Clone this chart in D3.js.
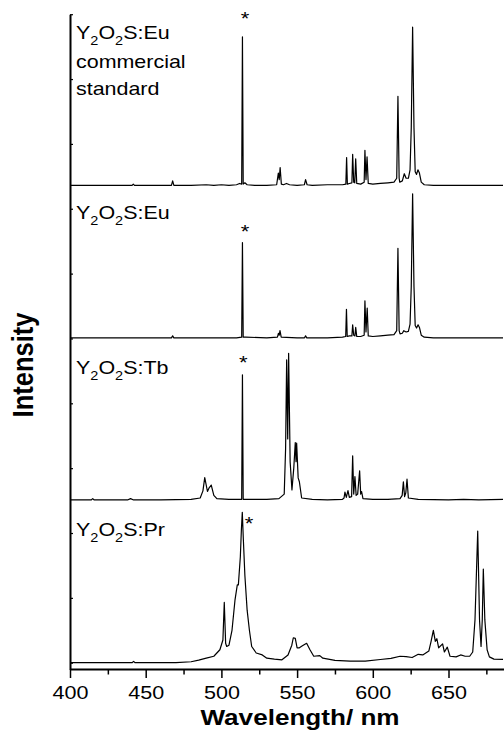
<!DOCTYPE html>
<html>
<head>
<meta charset="utf-8">
<script src="https://cdn.jsdelivr.net/npm/d3@7"></script>
<style>
  body { margin: 0; background: #fff; }
  svg { display: block; font-family: "Liberation Sans", Arial, sans-serif; }
</style>
</head>
<body>
<svg id="chart" width="504" height="733" viewBox="0 0 504 733"></svg>
<script>
// Spectra: [wavelength nm, intensity above own baseline]
const euStandard = [
  [400,0.01],[420,0.01],[441,0.01],[441.8,0.03],[442.6,0.01],[460,0.01],[467,0.01],[467.8,0.08],[468.6,0.01],
  [480,0.01],[490,0.02],[495,0.01],[500,0.02],[505,0.01],[510,0.02],[512,0.04],[513.4,0.03],[513.9,2.30],
  [514.4,0.03],[515.5,0.05],[517,0.02],[522,0.01],[530,0.01],[536.5,0.02],[537.6,0.2],[538.2,0.1],[538.8,0.285],
  [539.6,0.03],[541,0.02],[543,0.04],[545,0.02],[550,0.01],[554.8,0.02],[555.6,0.1],[556.6,0.02],[560,0.01],
  [570,0.02],[580,0.02],[582.2,0.03],[582.7,0.44],[583.2,0.03],[584.5,0.04],[586.2,0.05],[586.7,0.49],
  [587.4,0.06],[588.1,0.05],[588.7,0.42],[589.4,0.04],[592,0.03],[594.3,0.06],[594.8,0.55],[595.5,0.1],
  [596.2,0.45],[597,0.04],[600,0.03],[605,0.04],[610,0.05],[614,0.06],[615.8,0.12],[616.6,1.385],[617.4,0.12],
  [617.8,0.06],[619.5,0.08],[620.8,0.19],[622,0.12],[623.5,0.12],[624.6,0.25],[625.4,0.9],[626.3,2.45],
  [627.2,0.9],[628,0.22],[628.9,0.18],[629.8,0.25],[630.8,0.2],[632,0.06],[634,0.02],[640,0.01],[660,0.01],[686,0.01]
];
const euSample = [
  [400,0.01],[430,0.01],[467,0.01],[467.8,0.04],[468.6,0.01],[490,0.01],[500,0.01],[510,0.01],[513.4,0.02],
  [513.9,1.48],[514.4,0.02],[516,0.02],[530,0.01],[537,0.02],[537.7,0.08],[538.2,0.05],[538.7,0.12],[539.5,0.02],
  [550,0.01],[554.9,0.01],[555.6,0.04],[556.4,0.01],[570,0.01],[580,0.02],[582.1,0.03],[582.6,0.45],[583.1,0.03],
  [584.5,0.04],[586.2,0.04],[586.7,0.21],[587.4,0.05],[588.2,0.04],[588.7,0.17],[589.4,0.03],[592,0.03],
  [594.3,0.05],[594.8,0.58],[595.5,0.1],[596.3,0.47],[597,0.04],[600,0.03],[605,0.04],[610,0.05],[614,0.06],
  [615.8,0.12],[616.6,1.39],[617.4,0.12],[618,0.07],[619.5,0.08],[620.5,0.12],[622,0.1],[623.5,0.11],
  [624.6,0.22],[625.4,0.8],[626.3,2.23],[627.2,0.8],[628,0.2],[628.9,0.16],[629.9,0.21],[630.8,0.17],
  [632,0.05],[634,0.02],[640,0.01],[660,0.01],[686,0.01]
];
const tbSample = [
  [400,0.01],[414,0.01],[415,0.03],[416,0.01],[438,0.01],[440,0.03],[442,0.01],[460,0.01],[480,0.02],
  [486,0.04],[487.8,0.15],[489,0.355],[490.8,0.14],[492,0.2],[493.3,0.24],[495,0.08],[497,0.03],[505,0.02],
  [513.4,0.02],[513.9,1.94],[514.4,0.02],[520,0.02],[530,0.02],[538,0.03],[541.5,0.1],[542.4,0.8],[543.1,2.17],
  [543.8,0.95],[544.4,2.27],[545.4,0.6],[546.6,0.165],[547.8,0.5],[548.8,0.894],[549.3,0.6],[549.7,0.885],
  [550.7,0.35],[551.5,0.29],[553,0.04],[560,0.02],[570,0.01],[580,0.02],[581,0.04],[581.6,0.13],[582.5,0.05],
  [583.6,0.155],[584.5,0.05],[586,0.06],[586.7,0.69],[587.4,0.1],[588.2,0.37],[589,0.08],[590,0.1],[591.3,0.46],
  [592,0.1],[592.6,0.14],[593.5,0.03],[600,0.02],[610,0.02],[618,0.03],[619.4,0.08],[620.2,0.29],[621,0.06],
  [621.8,0.12],[622.6,0.33],[623.5,0.04],[630,0.02],[650,0.01],[660,0.02],[670,0.01],[686,0.02]
];
const prSample = [
  [400,0.0],[430,0.0],[441,0.0],[442,0.02],[443,0.0],[460,0.0],[470,0.0],[480,0.015],[485,0.04],[490,0.07],
  [495,0.1],[497,0.15],[499,0.2],[501,0.35],[501.9,0.93],[502.8,0.3],[503.5,0.25],[505,0.27],[507,0.5],
  [509,0.97],[510.5,1.2],[511.2,1.2],[512.5,1.63],[513.2,2.05],[513.8,2.32],[514.5,1.9],[515.5,1.35],[517,0.81],
  [518.5,0.5],[520,0.25],[523,0.15],[527,0.12],[530,0.07],[535,0.055],[540,0.045],[544,0.12],[546.5,0.27],
  [547.5,0.385],[548.8,0.375],[550,0.23],[551.5,0.23],[553.5,0.26],[556.3,0.3],[558.5,0.2],[561,0.1],[565,0.11],
  [567,0.07],[575,0.035],[585,0.025],[595,0.025],[605,0.05],[612,0.068],[618,0.1],[622,0.095],[626,0.08],
  [630,0.13],[633,0.12],[637,0.18],[638.5,0.33],[640,0.5],[641.3,0.33],[642.3,0.37],[643.5,0.23],[646.1,0.29],
  [647.3,0.165],[649.2,0.24],[651,0.1],[655,0.09],[658,0.12],[661,0.1],[664,0.1],[666,0.165],[667.5,0.66],
  [669.3,2.03],[670.5,0.66],[671.5,0.25],[672.3,0.66],[673,1.445],[674,0.66],[675.5,0.2],[677,0.09],
  [680,0.055],[686,0.05]
];

const spectra = [euStandard, euSample, tbSample, prSample];
const offsets = [7.35, 5, 2.5, 0];          // vertical offsets in axis units
const starNm = [515.6, 515.6, 514.5, 518.2];  // asterisks over the laser line
const starLevel = [2.65, 1.72, 2.2, 2.22];
const labelMain = ["Eu", "Eu", "Tb", "Pr"];
const xMajorTicks = [400, 450, 500, 550, 600, 650];
const xMinorTicks = [425, 475, 525, 575, 625, 675];
const yTicks = [0, 1, 2, 3, 4, 5, 6, 7, 8, 9, 10];

const svg = d3.select("#chart");
const stretch = 1.16; // picture is slightly widened horizontally
const plotLeft = 70, plotTop = 14.2, axisY = 669.2;

const x = d3.scaleLinear().domain([400, 690]).range([plotLeft, plotLeft + 290 * 1.514]);
const y = d3.scaleLinear().domain([-0.1, 10]).range([axisY, plotTop]);

svg.append("defs").append("clipPath").attr("id", "plot-clip")
  .append("rect").attr("x", plotLeft).attr("y", 0).attr("width", 504 - plotLeft).attr("height", axisY);

// spectra
const line = d3.line().x(d => x(d[0])).y(d => y(d[1]));
const plot = svg.append("g").attr("clip-path", "url(#plot-clip)");
spectra.forEach((s, i) => {
  plot.append("path")
    .datum(s.map(d => [d[0], d[1] + offsets[i]]))
    .attr("d", line)
    .attr("fill", "none")
    .attr("stroke", "#000")
    .attr("stroke-width", 1.2)
    .attr("stroke-linejoin", "round");
});

// asterisks
starNm.forEach((nm, i) => {
  svg.append("text")
    .attr("transform", `translate(${x(nm)},${y(starLevel[i] + offsets[i]) + 11}) scale(${stretch},1)`)
    .attr("text-anchor", "middle")
    .attr("font-size", 19)
    .text("*");
});

// sample labels
const labelBase = [39.3, 219.3, 374.3, 536];
labelMain.forEach((ion, i) => {
  const t = svg.append("text")
    .attr("transform", `translate(76,${labelBase[i]}) scale(${stretch},1)`)
    .attr("font-size", 18.5);
  t.append("tspan").text("Y");
  t.append("tspan").attr("font-size", 12.5).attr("dy", 5.5).text("2");
  t.append("tspan").attr("dy", -5.5).text("O");
  t.append("tspan").attr("font-size", 12.5).attr("dy", 5.5).text("2");
  t.append("tspan").attr("dy", -5.5).text("S:" + ion);
});
["commercial", "standard"].forEach((w, i) => {
  svg.append("text")
    .attr("transform", `translate(76,${67.7 + i * 27.5}) scale(${stretch},1)`)
    .attr("font-size", 18.5)
    .text(w);
});

// y axis: ticks inward, no labels
const yAxis = svg.append("g")
  .attr("transform", `translate(${plotLeft},0)`)
  .call(d3.axisRight(y).tickValues(yTicks).tickSize(3).tickSizeOuter(0).tickFormat(""));
yAxis.select(".domain").attr("stroke-width", 2);
yAxis.selectAll(".tick line").attr("stroke-width", 1.2);

// x axis
const xAxis = svg.append("g")
  .attr("transform", `translate(0,${axisY - 0.2})`)
  .call(d3.axisBottom(x).tickValues(xMajorTicks).tickSize(9).tickSizeOuter(0).tickPadding(8));
xAxis.select(".domain").attr("stroke-width", 2);
xAxis.selectAll(".tick line").attr("stroke-width", 1.5);
xAxis.selectAll(".tick text")
  .attr("font-size", 18.6)
  .attr("font-family", "'Liberation Sans', Arial, sans-serif")
  .attr("fill", "#000")
  .attr("transform", `scale(${stretch},1)`);

svg.append("g")
  .attr("transform", `translate(0,${axisY - 0.2})`)
  .call(d3.axisBottom(x).tickValues(xMinorTicks).tickSize(5.5).tickSizeOuter(0).tickFormat(""))
  .call(g => g.select(".domain").remove())
  .selectAll(".tick line").attr("stroke-width", 1.5);

// axis titles
svg.append("text")
  .attr("transform", `translate(300,725) scale(${stretch},1)`)
  .attr("text-anchor", "middle")
  .attr("font-weight", "bold")
  .attr("font-size", 22.5)
  .text("Wavelength/ nm");

svg.append("text")
  .attr("transform", `translate(33,365) scale(${stretch},1) rotate(-90)`)
  .attr("text-anchor", "middle")
  .attr("font-weight", "bold")
  .attr("font-size", 25.5)
  .text("Intensity");
</script>
</body>
</html>
